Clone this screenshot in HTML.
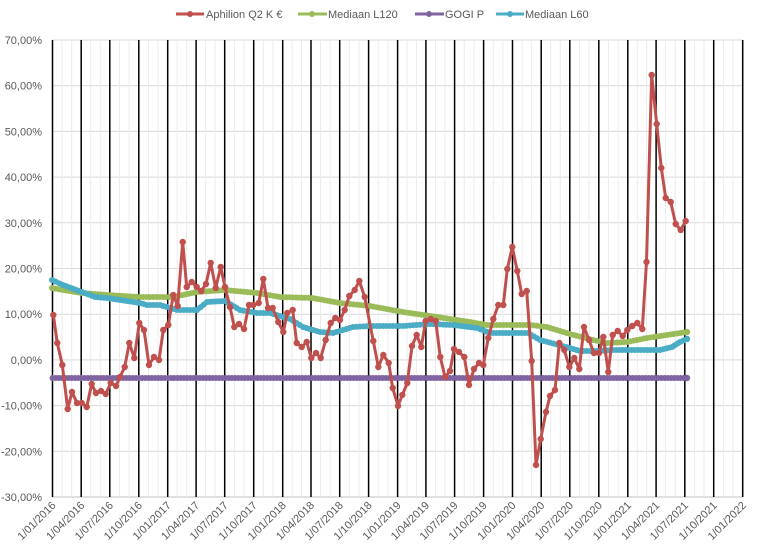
<!DOCTYPE html>
<html><head><meta charset="utf-8"><style>
html,body{margin:0;padding:0;background:#fff;}
svg{display:block;font-family:"Liberation Sans",sans-serif;}
</style></head><body>
<svg id="c" width="762" height="557" viewBox="0 0 762 557" xmlns="http://www.w3.org/2000/svg">
<g id="grid"></g>
<g id="series"></g>
<g id="labels" font-size="11" fill="#595959"></g>
<g font-size="11" fill="#595959">
<line x1="176" y1="14" x2="204" y2="14" stroke="#c0504d" stroke-width="3"/><circle cx="190" cy="14" r="3" fill="#c0504d"/>
<text x="206" y="18">Aphilion Q2 K €</text>
<line x1="298" y1="14" x2="327" y2="14" stroke="#9bbb59" stroke-width="3"/><circle cx="312" cy="14" r="3" fill="#9bbb59"/>
<text x="328" y="18">Mediaan L120</text>
<line x1="415" y1="14" x2="444" y2="14" stroke="#8064a2" stroke-width="3"/><circle cx="429" cy="14" r="3" fill="#8064a2"/>
<text x="445" y="18">GOGI P</text>
<line x1="496" y1="14" x2="524" y2="14" stroke="#4bacc6" stroke-width="3"/><circle cx="510" cy="14" r="3" fill="#4bacc6"/>
<text x="525" y="18">Mediaan L60</text>
</g>
</svg>
<script>
var NS="http://www.w3.org/2000/svg";
function el(p,t,a,txt){var e=document.createElementNS(NS,t);for(var k in a)e.setAttribute(k,a[k]);if(txt!=null)e.textContent=txt;p.appendChild(e);return e;}
var g=document.getElementById('grid'),s=document.getElementById('series'),L=document.getElementById('labels');
var q=[52.5,81.2,109.8,138.8,167.7,196.1,224.7,253.7,282.7,311.0,339.7,368.6,397.6,425.9,454.6,483.6,512.5,541.2,569.8,598.8,627.8,656.1,684.8,713.7,742.7];
var yTop=40,yBot=497;
for(var i=0;i<=10;i++){var y=yTop+i*(yBot-yTop)/10;el(g,'line',{x1:52.5,x2:742.7,y1:y,y2:y,stroke:i==10?'#bfbfbf':'#d9d9d9','stroke-width':1});
 var v=70-i*10;el(L,'text',{x:42,y:y+4,'text-anchor':'end'},(v.toFixed(2)).replace('.',',')+'%');}
for(var i=0;i<q.length-1;i++){for(var j=1;j<3;j++){var x=q[i]+(q[i+1]-q[i])*j/3;el(g,'line',{x1:x,x2:x,y1:yTop,y2:yBot,stroke:'#ebebeb','stroke-width':1});}}
var names=[];var ms=['01','04','07','10'];
for(var yr=2016;yr<=2022;yr++)for(var m=0;m<4;m++)names.push('1/'+ms[m]+'/'+yr);
for(var i=0;i<q.length;i++){el(g,'line',{x1:q[i],x2:q[i],y1:yTop,y2:yBot,stroke:'#000','stroke-width':1.5});
 el(L,'text',{x:q[i]+4,y:506,'text-anchor':'end',transform:'rotate(-45 '+(q[i]+4)+' 506)'},names[i]);}
function poly(pts,col,w){el(s,'polyline',{points:pts.map(function(p){return p.join(',')}).join(' '),fill:'none',stroke:col,'stroke-width':w,'stroke-linejoin':'round','stroke-linecap':'round'});}
function dense(pts,col){poly(pts,col,5);
 for(var i=0;i<pts.length-1;i++){var a=pts[i],b=pts[i+1],dx=b[0]-a[0],dy=b[1]-a[1],n=Math.max(1,Math.round(Math.abs(dx)/3.2));
  for(var k=0;k<n;k++){el(s,'circle',{cx:a[0]+dx*k/n,cy:a[1]+dy*k/n,r:3,fill:col});}}
 var e=pts[pts.length-1];el(s,'circle',{cx:e[0],cy:e[1],r:3.2,fill:col});}
dense([[52.5,378],[687,378]],'#8064a2');
var green=[[52,288],[63,290],[82,293],[107,295],[140,297],[173,297],[197,292],[225,290],[257,293],[280,297],[312,298],[340,303],[370,306],[403,312],[437,317],[470,322],[487,325],[510,325],[530,325],[547,327],[570,334],[593,340],[607,343],[627,342],[647,338],[667,335],[687,332]];
dense(green,'#9bbb59');
var blue=[[52,280],[63,285],[82,292],[95,297],[107,298],[140,303],[147,305],[160,305],[177,310],[197,310],[207,302],[225,301],[240,310],[257,313],[270,313],[290,319],[303,327],[320,332],[333,333],[353,327],[370,326],[403,326],[430,324],[453,325],[477,328],[490,333],[528,333],[540,340],[570,348],[580,351],[597,351],[613,350],[660,350],[672,347],[680,342],[687,339]];
dense(blue,'#4bacc6');
var red=[[53.3,315],[57.3,343],[62.3,365],[67.7,409],[72,392],[77,403],[81.7,403],[86.7,407],[91.7,384],[96,393],[101,391],[105.7,394],[110.7,383],[116,386],[120,377],[124.7,367],[129.3,343],[134.3,358],[139.3,323],[144,330],[149,365],[154,357],[159,360],[163.3,330],[168.3,325],[173.3,295],[177.7,306],[182.7,242],[186.7,287],[191.7,282],[196.7,287],[201.3,291],[206,284],[210.7,263],[215.7,288],[220.7,267],[225,287],[230,307],[234.3,327],[239,324],[244,329],[249,305],[253.3,305],[258.7,303],[263.3,279],[268,308],[272.7,308],[278.3,322],[283.3,332],[287.3,313],[292.7,310],[296.7,343],[301.7,347],[306.7,342],[311.3,358],[316,353],[320.7,358],[325.7,340],[330.7,323],[335.3,318],[340,320],[344.7,310],[349.3,296],[354.7,290],[359.3,281],[364.7,297],[373.3,341],[378.3,367],[383.3,355],[388.7,363],[392.7,388],[398,406],[402.3,395],[407.3,383],[412,346],[416.7,335],[421.3,347],[425.7,321],[430.7,319],[435.7,321],[440.3,357],[445,377],[450,371],[454,349],[459,352],[464.3,357],[469,385],[474,369],[479,363],[483.3,365],[488.3,338],[493.3,319],[498.3,305],[503.3,305],[507.3,269],[512.3,247],[517.3,271],[521.7,294],[526.7,291],[531.7,361],[536,465],[540.7,439],[546,412],[550,396],[555,390],[559.3,343],[564.3,350],[569.3,367],[574.3,358],[579.3,369],[584,327],[589,340],[594,353],[599,353],[603.3,337],[608.3,372],[612.7,335],[617.7,331],[622.7,336],[627.3,330],[632.3,326],[637.3,323],[642.3,329],[646.5,262],[651.7,75],[656.7,124],[661.3,168],[665.7,198],[670.7,202],[675.7,224],[680.7,230],[685.7,221]];
poly(red,'#c0504d',3);
red.forEach(function(p){el(s,'circle',{cx:p[0],cy:p[1],r:3.2,fill:'#c0504d'});});
</script>
</body></html>
